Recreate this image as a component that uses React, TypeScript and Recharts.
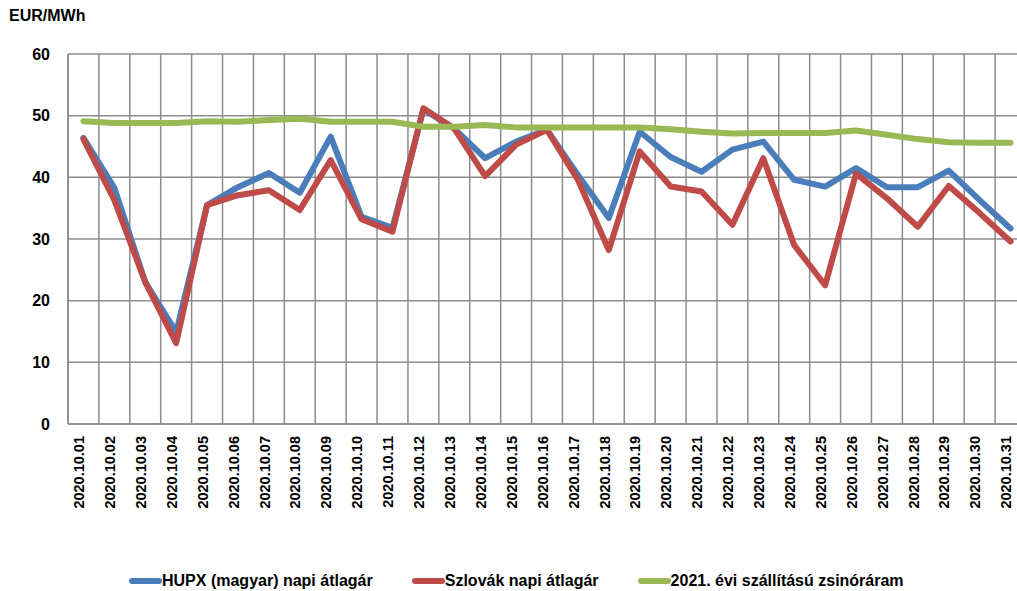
import { LineChart, Line, XAxis, YAxis, CartesianGrid, Legend } from 'recharts';

const dates = [
  '2020.10.01', '2020.10.02', '2020.10.03', '2020.10.04', '2020.10.05', '2020.10.06', '2020.10.07', '2020.10.08',
  '2020.10.09', '2020.10.10', '2020.10.11', '2020.10.12', '2020.10.13', '2020.10.14', '2020.10.15', '2020.10.16',
  '2020.10.17', '2020.10.18', '2020.10.19', '2020.10.20', '2020.10.21', '2020.10.22', '2020.10.23', '2020.10.24',
  '2020.10.25', '2020.10.26', '2020.10.27', '2020.10.28', '2020.10.29', '2020.10.30', '2020.10.31',
];

const hupx = [
  46.4, 38.3, 23.0, 14.9, 35.5, 38.4, 40.7, 37.5, 46.6, 33.6, 31.8, 51.0, 47.9, 43.1, 45.8, 47.7,
  40.4, 33.4, 47.4, 43.3, 40.9, 44.5, 45.8, 39.6, 38.5, 41.5, 38.4, 38.4, 41.1, 36.3, 31.7,
];

const szlovak = [
  46.2, 36.3, 23.0, 13.1, 35.5, 37.1, 37.9, 34.7, 42.8, 33.2, 31.2, 51.2, 47.9, 40.2, 45.3, 47.7,
  39.6, 28.2, 44.2, 38.5, 37.7, 32.3, 43.1, 29.0, 22.5, 40.6, 36.6, 32.0, 38.6, 34.2, 29.6,
];

const baseload = [
  49.1, 48.8, 48.8, 48.8, 49.1, 49.0, 49.3, 49.5, 49.0, 49.0, 49.0, 48.2, 48.2, 48.5, 48.1, 48.1,
  48.1, 48.1, 48.1, 47.8, 47.4, 47.1, 47.2, 47.2, 47.2, 47.6, 46.9, 46.2, 45.7, 45.6, 45.6,
];

const yTicks = [0, 10, 20, 30, 40, 50, 60];

const series = [
  { key: 'hupx', name: 'HUPX (magyar) napi átlagár', color: '#4a7ebb' },
  { key: 'szlovak', name: 'Szlovák napi átlagár', color: '#be4b48' },
  { key: 'baseload', name: '2021. évi szállítású zsinóráram', color: '#98b954' },
];

const data = dates.map((d, i) => ({
  x: i + 1,
  date: d,
  hupx: hupx[i],
  szlovak: szlovak[i],
  baseload: baseload[i],
}));

const FONT = '"Liberation Sans", Arial, sans-serif';

function DateTick({ x, y, payload }: any) {
  const label = dates[payload.value - 1];
  return (
    <text
      x={x}
      y={y}
      transform={`rotate(-90 ${x} ${y})`}
      textAnchor="end"
      dy="0.05em"
      fontFamily={FONT}
      fontWeight="bold"
      fontSize={14.5}
      fill="#000"
    >
      {label}
    </text>
  );
}

function LegendContent() {
  return (
    <div style={{ display: 'flex', justifyContent: 'flex-start', paddingLeft: 129, marginTop: 13, fontFamily: FONT, fontWeight: 'bold', fontSize: 16 }}>
      {series.map(s => (
        <div key={s.key} style={{ display: 'flex', alignItems: 'center', marginRight: 39 }}>
          <span style={{ width: 33, height: 6, borderRadius: 3, background: s.color, display: 'inline-block' }} />
          <span>{s.name}</span>
        </div>
      ))}
    </div>
  );
}

export default function App() {
  return (
    <div style={{ position: 'absolute', left: 0, top: 0, width: 1017, height: 591, overflow: 'hidden', background: '#fff' }}>
      <div style={{ position: 'absolute', left: 9, top: 7, fontFamily: FONT, fontWeight: 'bold', fontSize: 16 }}>EUR/MWh</div>
      <LineChart width={1040} height={591} data={data} margin={{ top: 54, right: 14, left: 0, bottom: 0 }}>
        <CartesianGrid
          stroke="#8c8c8c"
          strokeWidth={1.5}
          verticalCoordinatesGenerator={({ offset }: any) =>
            Array.from({ length: dates.length + 1 }, (_, i) => offset.left + (i * offset.width) / dates.length)
          }
        />
        <XAxis
          dataKey="x"
          type="number"
          domain={[0.5, dates.length + 0.5]}
          ticks={data.map(d => d.x)}
          interval={0}
          height={135}
          tick={<DateTick />}
          tickLine={false}
          tickSize={0}
          tickMargin={12}
          axisLine={{ stroke: '#8c8c8c', strokeWidth: 1.5 }}
        />
        <YAxis
          domain={[0, 60]}
          ticks={yTicks}
          width={68}
          tickLine={false}
          tickSize={0}
          tickMargin={18}
          axisLine={{ stroke: '#8c8c8c', strokeWidth: 1.5 }}
          tick={{ fontFamily: FONT, fontWeight: 'bold', fontSize: 16, fill: '#000' }}
        />
        <Legend verticalAlign="bottom" content={<LegendContent />} wrapperStyle={{ height: 32, width: 1017, left: 0 }} />
        {series.map(s => (
          <Line
            key={s.key}
            dataKey={s.key}
            name={s.name}
            type="linear"
            stroke={s.color}
            strokeWidth={6}
            strokeLinejoin="round"
            strokeLinecap="round"
            dot={false}
            isAnimationActive={false}
          />
        ))}
      </LineChart>
    </div>
  );
}
